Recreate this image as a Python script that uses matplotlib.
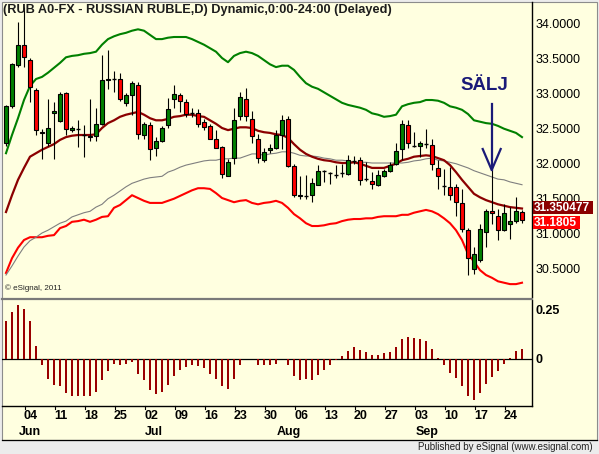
import matplotlib
matplotlib.use("Agg")
import matplotlib.pyplot as plt
import matplotlib.transforms as mtransforms
from matplotlib.patches import Rectangle
from matplotlib.lines import Line2D

plt.rcParams['font.family'] = ['Liberation Sans', 'DejaVu Sans']

# ---------------- data ----------------
opens = [32.29, 32.82, 33.40, 33.68, 33.47, 33.04, 32.45, 32.28, 32.72, 32.60,
         33.00, 32.47, 32.48, 32.41, 32.37, 32.39, 32.56, 33.18, 33.20, 33.20,
         32.86, 32.97, 33.11, 32.40, 32.55, 32.22, 32.32, 32.54, 32.91, 32.97,
         32.87, 32.72, 32.72, 32.58, 32.53, 32.34, 32.23, 31.82, 32.07, 32.67,
         32.92, 32.63, 32.34, 32.04, 32.19, 32.21, 32.40, 32.63, 31.96, 31.53,
         31.53, 31.54, 31.69, 31.88, 31.86, 31.84, 31.85, 31.85, 32.03, 32.05,
         31.77, 31.75, 31.68, 31.81, 31.88, 31.99, 32.20, 32.54, 32.24, 32.25,
         32.27, 32.26, 31.93, 31.67, 31.66, 31.66, 31.43, 31.05, 30.49, 30.62,
         31.02, 31.32, 31.25, 31.05, 31.13, 31.17, 31.30]
highs = [32.83, 33.43, 34.02, 34.23, 33.50, 33.07, 32.49, 32.92, 32.87, 33.01,
         33.02, 32.53, 32.61, 32.54, 32.92, 32.78, 33.55, 33.61, 33.32, 33.29,
         33.00, 33.17, 33.16, 32.59, 32.59, 32.37, 32.53, 32.93, 33.12, 33.00,
         32.92, 32.78, 32.77, 32.63, 32.56, 32.47, 32.24, 32.06, 32.79, 33.01,
         33.07, 32.75, 32.42, 32.21, 32.27, 32.47, 32.68, 32.67, 31.98, 31.82,
         31.83, 31.78, 31.97, 31.90, 31.87, 31.97, 31.98, 32.12, 32.10, 32.08,
         32.01, 31.87, 31.90, 31.91, 32.01, 32.28, 32.61, 32.61, 32.44, 32.32,
         32.48, 32.34, 32.04, 31.92, 31.94, 31.70, 31.63, 31.07, 30.80, 31.13,
         31.35, 31.90, 31.35, 31.42, 31.37, 31.51, 31.33]
lows = [32.25, 32.78, 33.37, 33.37, 32.87, 32.40, 32.06, 32.25, 32.06, 32.59,
        32.40, 32.44, 32.23, 32.09, 32.32, 32.32, 32.55, 33.06, 33.01, 32.88,
        32.82, 32.69, 32.34, 32.35, 32.05, 32.10, 32.30, 32.50, 32.78, 32.73,
        32.66, 32.66, 32.51, 32.47, 32.34, 32.21, 31.78, 31.81, 31.99, 32.62,
        32.60, 32.28, 32.00, 32.02, 32.15, 32.20, 32.20, 31.95, 31.51, 31.49,
        31.49, 31.44, 31.68, 31.73, 31.70, 31.78, 31.80, 31.83, 31.98, 31.68,
        31.75, 31.63, 31.67, 31.80, 31.87, 31.97, 32.04, 32.22, 32.23, 32.09,
        32.22, 31.90, 31.63, 31.54, 31.47, 31.25, 31.01, 30.40, 30.42, 30.59,
        30.80, 31.13, 30.90, 31.03, 30.92, 31.15, 31.15]
closes = [32.81, 33.41, 33.68, 33.51, 33.09, 32.47, 32.43, 32.50, 32.74, 32.99,
          32.48, 32.50, 32.48, 32.40, 32.39, 32.56, 33.18, 33.20, 33.21, 32.91,
          32.97, 33.14, 32.42, 32.56, 32.20, 32.32, 32.50, 32.77, 32.98, 32.89,
          32.70, 32.71, 32.56, 32.52, 32.35, 32.22, 31.85, 32.02, 32.62, 32.94,
          32.67, 32.38, 32.07, 32.16, 32.21, 32.40, 32.62, 31.96, 31.55, 31.55,
          31.52, 31.72, 31.88, 31.89, 31.85, 31.83, 31.86, 32.05, 32.04, 31.76,
          31.77, 31.70, 31.83, 31.88, 31.97, 32.17, 32.56, 32.29, 32.24, 32.28,
          32.28, 31.98, 31.81, 31.66, 31.54, 31.45, 31.06, 30.64, 30.70, 31.06,
          31.31, 31.29, 31.04, 31.28, 31.17, 31.31, 31.18]

upper_band = [32.14, 32.40, 32.64, 32.90, 33.10, 33.20, 33.23, 33.29, 33.36, 33.43,
              33.51, 33.53, 33.54, 33.56, 33.57, 33.59, 33.69, 33.77, 33.81, 33.84,
              33.86, 33.89, 33.91, 33.89, 33.83, 33.77, 33.77, 33.79, 33.80, 33.80,
              33.80, 33.77, 33.73, 33.69, 33.64, 33.59, 33.50, 33.44, 33.53, 33.57,
              33.59, 33.57, 33.53, 33.47, 33.41, 33.37, 33.39, 33.39, 33.33, 33.23,
              33.14, 33.09, 33.06, 33.01, 32.96, 32.91, 32.86, 32.83, 32.81, 32.79,
              32.76, 32.71, 32.69, 32.66, 32.67, 32.69, 32.81, 32.84, 32.86, 32.87,
              32.90, 32.90, 32.89, 32.86, 32.81, 32.79, 32.76, 32.70, 32.61, 32.59,
              32.57, 32.56, 32.53, 32.49, 32.46, 32.43, 32.37]
middle_ma = [31.30, 31.54, 31.76, 31.93, 32.09, 32.14, 32.19, 32.23, 32.27, 32.33,
             32.37, 32.39, 32.40, 32.40, 32.40, 32.41, 32.50, 32.57, 32.61, 32.66,
             32.69, 32.71, 32.73, 32.69, 32.64, 32.61, 32.61, 32.63, 32.66, 32.67,
             32.69, 32.69, 32.67, 32.66, 32.61, 32.56, 32.50, 32.47, 32.49, 32.51,
             32.51, 32.50, 32.46, 32.44, 32.43, 32.41, 32.40, 32.36, 32.27, 32.19,
             32.13, 32.09, 32.06, 32.04, 32.03, 32.01, 32.00, 32.00, 32.01, 31.99,
             31.96, 31.93, 31.93, 31.93, 31.96, 31.99, 32.04, 32.06, 32.09, 32.10,
             32.11, 32.10, 32.07, 32.04, 31.97, 31.87, 31.76, 31.66, 31.56, 31.51,
             31.47, 31.44, 31.41, 31.39, 31.37, 31.36, 31.35]
slow_ma = [30.40, 30.53, 30.67, 30.80, 30.89, 30.94, 31.00, 31.04, 31.09, 31.14,
           31.17, 31.23, 31.26, 31.29, 31.31, 31.37, 31.41, 31.49, 31.54, 31.60,
           31.66, 31.71, 31.74, 31.77, 31.79, 31.80, 31.81, 31.87, 31.90, 31.94,
           31.97, 31.99, 32.01, 32.03, 32.04, 32.04, 32.06, 32.06, 32.07, 32.07,
           32.10, 32.13, 32.13, 32.11, 32.13, 32.14, 32.16, 32.16, 32.14, 32.11,
           32.10, 32.10, 32.09, 32.07, 32.06, 32.04, 32.04, 32.03, 32.01, 32.01,
           32.01, 32.00, 32.00, 32.00, 32.00, 32.00, 32.00, 32.01, 32.03, 32.04,
           32.06, 32.07, 32.04, 32.03, 32.01, 31.99, 31.96, 31.93, 31.89, 31.86,
           31.83, 31.80, 31.77, 31.76, 31.73, 31.71, 31.69]
lower_band = [30.43, 30.64, 30.79, 30.90, 30.94, 30.94, 30.94, 30.96, 30.97, 31.07,
              31.10, 31.16, 31.17, 31.19, 31.16, 31.19, 31.23, 31.24, 31.36, 31.40,
              31.47, 31.54, 31.50, 31.46, 31.43, 31.43, 31.43, 31.46, 31.49, 31.53,
              31.57, 31.61, 31.64, 31.64, 31.63, 31.57, 31.50, 31.47, 31.44, 31.46,
              31.47, 31.43, 31.41, 31.43, 31.44, 31.46, 31.43, 31.36, 31.27, 31.21,
              31.14, 31.10, 31.10, 31.11, 31.13, 31.14, 31.17, 31.19, 31.20, 31.20,
              31.21, 31.21, 31.23, 31.24, 31.24, 31.24, 31.26, 31.26, 31.29, 31.31,
              31.33, 31.31, 31.27, 31.21, 31.14, 31.04, 30.90, 30.70, 30.59, 30.47,
              30.40, 30.36, 30.31, 30.29, 30.27, 30.27, 30.29]
oscillator = [0.192, 0.238, 0.274, 0.257, 0.192, 0.068, -0.032, -0.100, -0.134, -0.139,
              -0.175, -0.190, -0.190, -0.190, -0.190, -0.170, -0.109, -0.063, -0.024, -0.029,
              -0.027, -0.017, -0.078, -0.109, -0.160, -0.179, -0.170, -0.134, -0.088, -0.054,
              -0.043, -0.032, -0.037, -0.048, -0.075, -0.100, -0.139, -0.151, -0.100, -0.029,
              0.000, 0.000, -0.029, -0.032, -0.032, -0.024, 0.000, -0.032, -0.085, -0.105,
              -0.100, -0.109, -0.083, -0.058, -0.032, -0.007, 0.014, 0.043, 0.060, 0.048,
              0.034, 0.022, 0.022, 0.029, 0.037, 0.060, 0.104, 0.114, 0.107, 0.104,
              0.094, 0.053, 0.007, -0.032, -0.073, -0.099, -0.139, -0.190, -0.211, -0.175,
              -0.129, -0.094, -0.063, -0.027, 0.007, 0.043, 0.053]

day_labels = ['04', '11', '18', '25', '02', '09', '16', '23', '30', '06',
              '13', '20', '27', '03', '10', '17', '24']
month_labels = ['Jun', 'Jul', 'Aug', 'Sep']
price_ticks = [30.5, 31.0, 31.5, 32.0, 32.5, 33.0, 33.5, 34.0]
osc_ticks = [0, 0.25]
last_ma_label = '31.350477'
last_close_label = '31.1805'
title = '(RUB A0-FX - RUSSIAN RUBLE,D) Dynamic,0:00-24:00 (Delayed)'

# ---------------- layout ----------------
W, H = 599, 454
fig = plt.figure(figsize=(W / 100, H / 100), dpi=100)
fig.patch.set_facecolor('#ECECEC')
CREAM = '#FFFFE0'


def fx(px):
    return px / W


def fy(py):
    return 1 - py / H


fig.add_artist(Rectangle((fx(1.5), fy(440)), fx(596.5) - fx(1.5), fy(1.5) - fy(440),
                         transform=fig.transFigure, facecolor=CREAM,
                         edgecolor='#8c8c8c', lw=0.8, zorder=0))
fig.add_artist(Line2D([fx(1.5), fx(596.5)], [fy(440), fy(440)], transform=fig.transFigure,
                      color='black', lw=0.9))

ax1 = fig.add_axes([fx(2), fy(297), fx(532) - fx(2), fy(2) - fy(297)])
ax2 = fig.add_axes([fx(2), fy(406), fx(532) - fx(2), fy(300) - fy(406)])

n = len(closes)
xs = list(range(n))
XLIM = (-0.667, 87.667)

for ax in (ax1, ax2):
    ax.set_facecolor('none')
    ax.set_xlim(*XLIM)
    for s in ('left', 'top', 'bottom'):
        ax.spines[s].set_visible(False)
    ax.spines['right'].set_color('black')
    ax.spines['right'].set_linewidth(1.0)
    ax.yaxis.tick_right()
    ax.tick_params(axis='y', length=0, pad=2.5, labelsize=9, colors='black')
    ax.tick_params(axis='x', length=0, labelbottom=False)

ax1.set_ylim(30.086, 34.30)
ax2.set_ylim(-0.240, 0.301)
ax2.spines['bottom'].set_visible(True)
ax2.spines['bottom'].set_color('black')
ax2.spines['bottom'].set_linewidth(1.0)

# separator between panes
fig.add_artist(Line2D([fx(2), fx(532)], [fy(298.5), fy(298.5)], transform=fig.transFigure,
                      color='#7a7a7a', lw=1.6))

# ---------------- price pane ----------------
ax1.plot(xs, upper_band, color='#008000', lw=1.5, zorder=2)
ax1.plot(xs, lower_band, color='#FF0000', lw=1.5, zorder=2)
ax1.plot(xs, slow_ma, color='#7f7f7f', lw=0.8, zorder=2)
ax1.plot(xs, middle_ma, color='#8B0000', lw=1.6, zorder=2)

ax1.vlines(xs, lows, highs, color='black', lw=0.8, zorder=3)
bw = 0.68
for i in xs:
    o, c = opens[i], closes[i]
    if abs(c - o) < 0.015:
        ax1.hlines((o + c) / 2, i - bw / 2, i + bw / 2, color='black', lw=1.0, zorder=4)
    else:
        col = '#008000' if c > o else '#FF0000'
        ax1.bar(i, abs(c - o), bottom=min(o, c), width=bw, color=col,
                edgecolor='black', linewidth=0.8, zorder=4)

ax1.set_yticks(price_ticks)
ax1.set_yticklabels(['%.4f' % v for v in price_ticks])

# price tags on the right axis
tag_tr = mtransforms.blended_transform_factory(ax1.transAxes, ax1.transData)
for val, txt, col, w in ((middle_ma[-1] + 0.012, last_ma_label, '#8B0000', 0.114),
                         (closes[-1] - 0.028, last_close_label, '#FF0000', 0.089)):
    ax1.add_patch(Rectangle((1.0015, val - 0.09), w, 0.18, transform=tag_tr,
                            facecolor=col, edgecolor='none', clip_on=False, zorder=5))
    ax1.text(1.004, val - 0.005, txt, transform=tag_tr, ha='left', va='center',
             fontsize=8.6, color='white', fontweight='bold', clip_on=False, zorder=6)

# title and notes
fig.text(fx(3), fy(10.5), title, ha='left', va='center', fontsize=9.2,
         fontweight='bold', color='#1c1c1c')
ax1.text(0.006, 0.018, '\u00a9 eSignal, 2011', transform=ax1.transAxes, fontsize=5.8,
         ha='left', va='bottom', color='#222222')

# SÄLJ annotation with arrow
NAVY = '#1a1a78'
ax1.text(79.8, 33.11, 'SÄLJ', ha='center', va='center', fontsize=13.5,
         fontweight='bold', color=NAVY, zorder=6)
ax1.plot([80.95, 80.95], [32.85, 31.90], color=NAVY, lw=1.6, zorder=6)
ax1.plot([79.45, 80.95, 82.45], [32.20, 31.90, 32.20], color=NAVY, lw=1.6, zorder=6)

# ---------------- oscillator pane ----------------
ax2.bar(xs, oscillator, width=0.36, color='#990000', zorder=3)
ax2.axhline(0, color='black', lw=0.9, zorder=2)
ax2.set_yticks(osc_ticks)
ax2.set_yticklabels(['0', '0.25'], fontweight='bold')

# x axis: weekly ticks and labels
lab_tr = mtransforms.blended_transform_factory(ax2.transData, ax2.transAxes)
for k, lab in enumerate(day_labels):
    xt = 3.17 + 5 * k
    ax2.plot([xt, xt], [0, -0.03], transform=lab_tr, color='black', lw=0.8, clip_on=False)
    ax2.text(xt + 1.0, -0.094, lab, transform=lab_tr, ha='center', va='center',
             fontsize=9, fontweight='bold', color='black')
for xm, lab in zip([4.0, 24.6, 47.2, 70.1], month_labels):
    ax2.text(xm, -0.245, lab, transform=lab_tr, ha='center', va='center',
             fontsize=9, fontweight='bold', color='black')

fig.text(fx(593), fy(446.5), 'Published by eSignal (www.esignal.com)', ha='right',
         va='center', fontsize=7.0, color='#222222')

fig.savefig('out.png', dpi=100, facecolor=fig.get_facecolor())
